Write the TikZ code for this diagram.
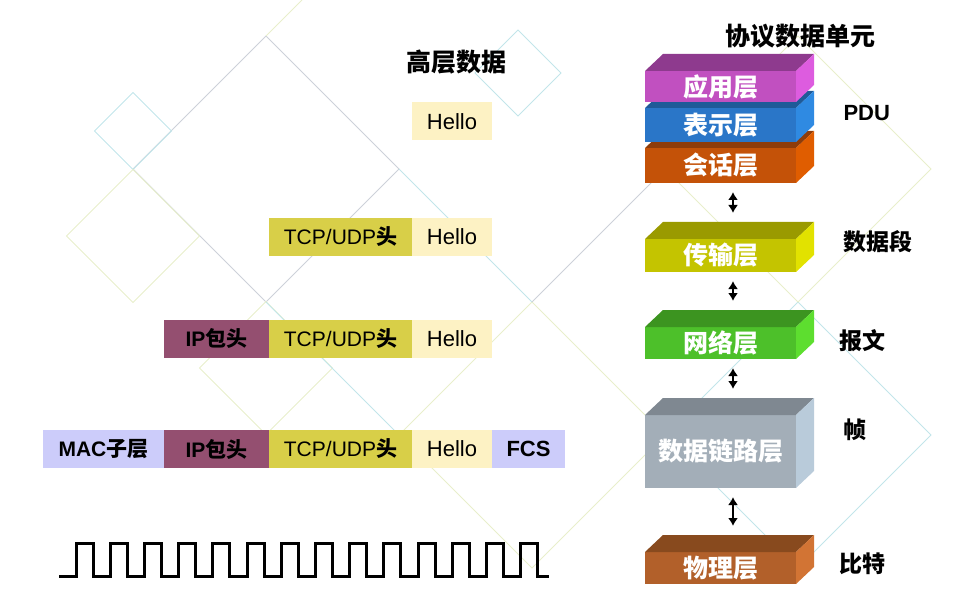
\documentclass[tikz,border=0pt]{standalone}
\usepackage{fontspec}
\setmainfont{Liberation Sans}
\newfontfamily\cjk{Noto Sans CJK SC}
\usetikzlibrary{arrows.meta,positioning}
% cells of the frames
\definecolor{hellofill}{HTML}{FDF2C4}
\definecolor{tcpfill}{HTML}{D8CF48}
\definecolor{ipfill}{HTML}{944F70}
\definecolor{macfill}{HTML}{CCCCFA}
% layer boxes: front, top, side
\definecolor{yingF}{HTML}{C150C0}\definecolor{yingT}{HTML}{8E3A8E}\definecolor{yingS}{HTML}{DD5CDF}
\definecolor{biaoF}{HTML}{2A76C8}\definecolor{biaoT}{HTML}{1F5A98}\definecolor{biaoS}{HTML}{2F8AE2}
\definecolor{huiF}{HTML}{C45208}\definecolor{huiT}{HTML}{8E3C0A}\definecolor{huiS}{HTML}{E05D00}
\definecolor{chuanF}{HTML}{C4C400}\definecolor{chuanT}{HTML}{9A9A00}\definecolor{chuanS}{HTML}{E2E200}
\definecolor{wangF}{HTML}{4DC02A}\definecolor{wangT}{HTML}{3C9420}\definecolor{wangS}{HTML}{5DDE2F}
\definecolor{lianF}{HTML}{A3AEB8}\definecolor{lianT}{HTML}{7F8891}\definecolor{lianS}{HTML}{B9CBDA}
\definecolor{wuF}{HTML}{B2602A}\definecolor{wuT}{HTML}{884A1E}\definecolor{wuS}{HTML}{D27434}
% background lines
\definecolor{bggray}{HTML}{CDD1D9}
\definecolor{bgblue}{HTML}{C2E5EA}
\definecolor{bgyellow}{HTML}{E8EFCB}

\tikzset{
  cell/.style={inner sep=0pt, outer sep=0pt, minimum height=38pt, text=black,
    font=\fontsize{21}{24}\selectfont},
  hello/.style={cell, fill=hellofill, minimum width=80pt, font=\fontsize{22}{24}\selectfont},
  tcp/.style={cell, fill=tcpfill, minimum width=143pt},
  ip/.style={cell, fill=ipfill, minimum width=105pt, font=\fontsize{21}{24}\selectfont\bfseries},
  mac/.style={cell, fill=macfill, minimum width=121pt, font=\fontsize{21}{24}\selectfont\bfseries},
  fcs/.style={cell, fill=macfill, minimum width=73pt, font=\fontsize{22}{24}\selectfont\bfseries},
  layer/.style={inner sep=0pt, outer sep=0pt, minimum width=151pt, text=white,
    font=\fontsize{25}{28}\selectfont\cjk\bfseries},
  updown/.style={{Latex[length=8pt,width=10pt]}-{Latex[length=8pt,width=10pt]}, line width=2pt},
  title/.style={font=\fontsize{25}{28}\selectfont\cjk\bfseries},
  unit/.style={anchor=west, font=\fontsize{23}{26}\selectfont\cjk\bfseries},
  wave/.style={line width=3pt, line join=miter},
  bg/.style={line width=1pt}
}

\begin{document}
\begin{tikzpicture}[x=1pt,y=1pt]
  \useasboundingbox (0,0) rectangle (966,614);

  % faint diamonds behind everything
  \begin{scope}[bg]
    \draw[bggray] (266,578) -- (399,445) -- (266,312) -- (133,445) -- cycle;
    \draw[bgblue] (133,521.5) -- (171.5,483) -- (133,444.5) -- (94.5,483) -- cycle;
    \draw[bgyellow] (133,444.5) -- (199.5,378) -- (133,311.5) -- (66.5,378) -- cycle;
    \draw[bgblue] (518,584) -- (561,541) -- (518,498) -- (475,541) -- cycle;
    \draw[bgyellow] (266,312.5) -- (332.5,246) -- (266,179.5) -- (199.5,246) -- cycle;
    \draw[bgyellow] (532,312) -- (665,179) -- (532,46) -- (399,179) -- cycle;
    \draw[bgblue] (798,312) -- (931,179) -- (798,46) -- (665,179) -- cycle;
    \draw[bgyellow] (798,578) -- (931,445) -- (798,312) -- (665,445) -- cycle;
    \draw[bgblue] (399,445) -- (532,312);
    \draw[bgblue] (266,312) -- (399,179);
    \draw[bggray] (532,312) -- (665,445);
    \draw[bgyellow] (266,578) -- (302,614);
  \end{scope}

  % headings
  \node[title] (gaoceng) at (456,552) {高层数据};
  \node[title] (xieyi) at (800,578) {协议数据单元};

  % encapsulation rows
  \node[hello] (hello1) at (452,492.5) {Hello};

  \node[hello] (hello2) at (452,377) {Hello};
  \node[tcp, left=0pt of hello2] (tcp2) {TCP/UDP{\cjk\bfseries 头}};

  \node[hello] (hello3) at (452,275.5) {Hello};
  \node[tcp, left=0pt of hello3] (tcp3) {TCP/UDP{\cjk\bfseries 头}};
  \node[ip, left=0pt of tcp3] (ip3) {IP{\cjk 包头}};

  \node[hello] (hello4) at (452,165) {Hello};
  \node[tcp, left=0pt of hello4] (tcp4) {TCP/UDP{\cjk\bfseries 头}};
  \node[ip, left=0pt of tcp4] (ip4) {IP{\cjk 包头}};
  \node[mac, left=0pt of ip4] (mac4) {MAC{\cjk 子层}};
  \node[fcs, right=0pt of hello4] (fcs4) {FCS};

  % bit stream
  \draw[wave] (59,38)
    \foreach \k in {0,...,13} {
      -- ({76+34.2*\k},38) -- ({76+34.2*\k},71) -- ({93+34.2*\k},71) -- ({93+34.2*\k},38)
    } -- (549,38);

  % layer boxes
  \foreach \nm/\cy/\hh/\clr/\txt in {
      hui/448.5/35/hui/会话层, biao/489/34/biao/表示层, ying/527.5/31/ying/应用层,
      chuan/358.5/33/chuan/传输层, wang/271/32/wang/网络层,
      lian/162.5/73/lian/数据链路层, wu/46/32/wu/物理层} {
    \node[layer, fill=\clr F, minimum height=\hh pt] (\nm) at (720.5,\cy) {\txt};
    \fill[\clr T] (\nm.north west) -- ++(18pt,17pt)
      -- ([xshift=18pt,yshift=17pt]\nm.north east) -- (\nm.north east) -- cycle;
    \fill[\clr S] (\nm.north east) -- ++(18pt,17pt)
      -- ([xshift=18pt,yshift=17pt]\nm.south east) -- (\nm.south east) -- cycle;
  }

  \foreach \src/\dst in {hui/chuan, chuan/wang, wang/lian, lian/wu}
    \draw[updown, shorten <=9pt, shorten >=26pt]
      ([xshift=12.5pt]\src.south) -- ([xshift=12.5pt]\dst.north);

  % data units
  \node[unit, font=\fontsize{22}{26}\selectfont\bfseries] (pdu) at (840,501) {PDU};
  \node[unit] (duan) at (840,372) {数据段};
  \node[unit] (baowen) at (836,273) {报文};
  \node[unit] (zhen) at (840,184) {帧};
  \node[unit] (bite) at (836,50) {比特};
\end{tikzpicture}
\end{document}
